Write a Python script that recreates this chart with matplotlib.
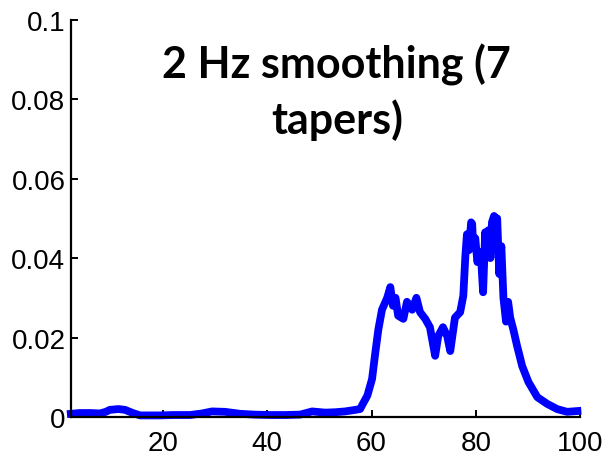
import numpy as np
import matplotlib
matplotlib.use("Agg")
from matplotlib import pyplot as plt

# spectrum (frequency in Hz, power)
freq = [2.3, 4.0, 6.0, 7.9, 9.0, 9.8, 11.4, 12.7, 14.2, 15.6, 17.5, 19.4, 22.0,
        25.2, 27.5, 29.4, 31.9, 34.8, 37.5, 40.5, 43.5, 46.3, 48.6, 51.1, 53.0,
        54.9, 56.9, 57.8, 58.2, 59.2, 60.1, 60.7, 61.3, 62.0, 63.0, 63.6, 64.1,
        64.6, 65.1, 66.1, 66.8, 67.8, 68.6, 69.3, 70.3, 71.2, 72.2, 72.8, 73.7,
        74.5, 75.1, 76.0, 77.0, 77.6, 78.0, 78.3, 78.7, 79.1, 79.3, 79.5, 79.9,
        80.3, 80.8, 81.1, 81.4, 81.8, 82.1, 82.4, 82.8, 83.1, 83.5, 83.8, 84.1,
        84.5, 84.9, 85.3, 85.8, 86.2, 86.6, 87.2, 87.9, 88.9,
        90.1, 91.8, 93.7, 95.6, 97.5, 99.5]
power = [0.0008, 0.0010, 0.0010, 0.0009, 0.0013, 0.0018, 0.0020, 0.0018, 0.0010,
         0.0004, 0.0004, 0.0004, 0.0005, 0.0005, 0.0009, 0.0014, 0.0013, 0.0008,
         0.0006, 0.0005, 0.0005, 0.0006, 0.0014, 0.0011, 0.0012, 0.0014, 0.0018,
         0.0020, 0.0030, 0.0054, 0.0096, 0.0160, 0.0220, 0.0270, 0.0300, 0.0327,
         0.0280, 0.0300, 0.0255, 0.0247, 0.0290, 0.0270, 0.0300, 0.0264, 0.0247,
         0.0226, 0.0154, 0.0204, 0.0226, 0.0204, 0.0166, 0.0250, 0.0264, 0.0305,
         0.0406, 0.0460, 0.0420, 0.0490, 0.0486, 0.0430, 0.0450, 0.0390, 0.0415,
         0.0380, 0.0314, 0.0465, 0.0410, 0.0470, 0.0400, 0.0490, 0.0506, 0.0420,
         0.0500, 0.0360, 0.0430, 0.0300, 0.0240, 0.0290, 0.0250, 0.0220, 0.0180,
         0.0128, 0.0088, 0.0050, 0.0033, 0.0020, 0.0013, 0.0015]

xticks = [20, 40, 60, 80, 100]
yticks = [0, 0.02, 0.04, 0.06, 0.08, 0.1]
yticklabels = ["0", "0.02", "0.04", "0.06", "0.08", "0.1"]

fig = plt.figure(figsize=(6.07, 4.60), dpi=100)
ax = fig.add_axes([0.117, 0.0913, 0.8386, 0.8637])

ax.plot(freq, power, color="#0000ff", lw=5.6, clip_on=False)

ax.set_xlim(2.34, 100)
ax.set_ylim(0, 0.1)
ax.set_xticks(xticks)
ax.set_yticks(yticks)
ax.set_yticklabels(yticklabels)

for s in ["top", "right"]:
    ax.spines[s].set_visible(False)
for s in ["left", "bottom"]:
    ax.spines[s].set_linewidth(1.6)

ax.tick_params(direction="in", length=5, width=1.4, labelsize=20)
ax.tick_params(axis="x", pad=9)
ax.tick_params(axis="y", pad=4)
for lab in ax.get_xticklabels() + ax.get_yticklabels():
    lab.set_fontfamily("Liberation Sans")

fig.text(0.555, 0.905, "2 Hz smoothing (7\ntapers)", ha="center", va="top",
         fontsize=31, fontweight="bold", family="Lato", linespacing=1.38)

fig.savefig("out.png", dpi=100)
